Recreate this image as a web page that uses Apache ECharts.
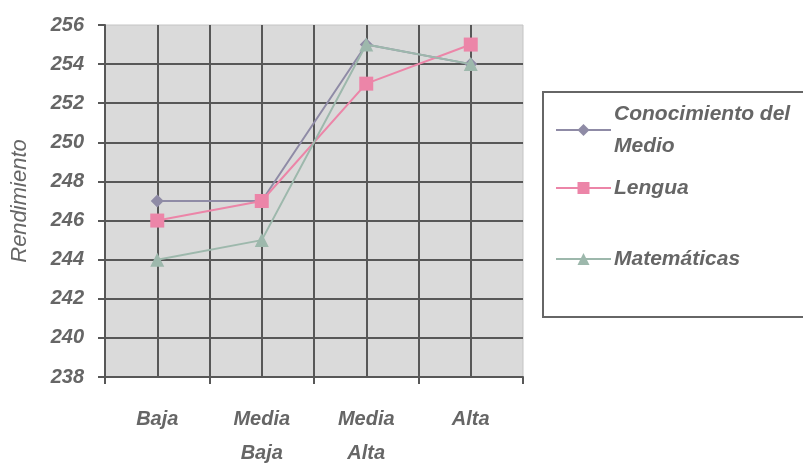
<!DOCTYPE html>
<html><head><meta charset="utf-8">
<script src="https://cdn.jsdelivr.net/npm/echarts@6/dist/echarts.min.js"></script>
<style>html,body{margin:0;padding:0;background:#fff}#c{width:803px;height:465px}</style>
</head><body><div id="c"></div>
<script>
const categories = ['Baja', 'Media\nBaja', 'Media\nAlta', 'Alta'];
const conocimiento = [247, 247, 255, 254];
const lengua = [246, 247, 253, 255];
const matematicas = [244, 245, 255, 254];
const yTicks = [238, 240, 242, 244, 246, 248, 250, 252, 254, 256];

const textColor = '#666666';
const gridLine = '#575757';
const font = '"Liberation Sans", Arial, sans-serif';
const chart = echarts.init(document.getElementById('c'));
const names = ['Conocimiento del\nMedio', 'Lengua', 'Matemáticas'];
const colors = ['#8f8ba6', '#ec85a8', '#9db8ac'];
const legendTops = [93, 167, 238];
const mkLegend = (i) => ({
  data: [names[i]], left: 550, top: legendTops[i], orient: 'vertical',
  itemWidth: 55, itemHeight: 15, itemGap: 0,
  textStyle: {color: textColor, fontSize: 21, fontStyle: 'italic', fontWeight: 'bold', fontFamily: font, lineHeight: 32, padding: [0, 0, 0, -2]}
});
const ySplitColors = yTicks.map((v, i) => i === yTicks.length - 1 ? 'rgba(0,0,0,0)' : gridLine);
chart.setOption({
  animation: false,
  backgroundColor: '#ffffff',
  grid: {left: 105, right: 280, top: 25, bottom: 88, containLabel: false, outerBoundsMode: 'none',
    show: true, backgroundColor: '#dadada', borderWidth: 1, borderColor: '#c4c4c4'},
  legend: [mkLegend(0), mkLegend(1), mkLegend(2)],
  graphic: [{type: 'rect', shape: {x: 543, y: 92, width: 280, height: 225},
    style: {fill: 'none', stroke: '#666', lineWidth: 2}}],
  xAxis: [{
    type: 'category', data: categories, boundaryGap: true,
    axisLine: {lineStyle: {color: gridLine, width: 2}},
    axisTick: {show: true, length: 7, lineStyle: {color: gridLine, width: 2}},
    axisLabel: {color: textColor, fontSize: 20, fontStyle: 'italic', fontWeight: 'bold', fontFamily: font, margin: 25, lineHeight: 34},
    splitLine: {show: false}
  }, {
    type: 'category', data: ['', '', '', '', '', '', '', ''], position: 'bottom', boundaryGap: true,
    axisLine: {show: false}, axisTick: {show: false}, axisLabel: {show: false},
    splitLine: {show: true, lineStyle: {color: [gridLine, gridLine, gridLine, gridLine, gridLine, gridLine, gridLine, gridLine, 'rgba(0,0,0,0)'], width: 2}}
  }],
  yAxis: {
    type: 'value', min: 238, max: 256, interval: 2,
    name: 'Rendimiento', nameLocation: 'middle', nameGap: 74, nameRotate: 90,
    nameTextStyle: {color: textColor, fontSize: 22, fontStyle: 'italic', fontFamily: font},
    axisLine: {show: true, lineStyle: {color: gridLine, width: 2}},
    axisTick: {show: true, length: 7, lineStyle: {color: gridLine, width: 2}},
    axisLabel: {color: textColor, fontSize: 20, fontStyle: 'italic', fontWeight: 'bold', fontFamily: font, margin: 21,
      formatter: v => yTicks.includes(v) ? String(v) : ''},
    splitLine: {show: true, lineStyle: {color: ySplitColors, width: 2}}
  },
  series: [
    {name: names[0], type: 'line', data: conocimiento, symbol: 'diamond', symbolSize: 13,
     itemStyle: {color: colors[0]}, lineStyle: {color: colors[0], width: 2}, z: 3},
    {name: names[1], type: 'line', data: lengua, symbol: 'rect', symbolSize: 14,
     itemStyle: {color: colors[1]}, lineStyle: {color: colors[1], width: 2}, z: 4},
    {name: names[2], type: 'line', data: matematicas, symbol: 'triangle', symbolSize: 14,
     itemStyle: {color: colors[2]}, lineStyle: {color: colors[2], width: 2}, z: 5}
  ]
});
</script></body></html>
